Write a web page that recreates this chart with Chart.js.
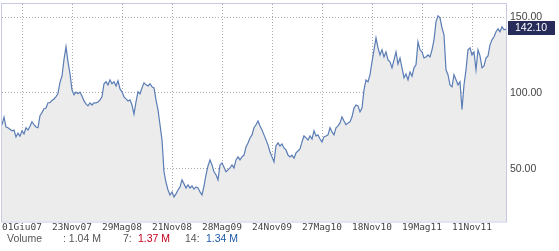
<!DOCTYPE html>
<html>
<head>
<meta charset="utf-8">
<script src="https://cdn.jsdelivr.net/npm/chart.js@4.4.0/dist/chart.umd.min.js"></script>
<style>
  html, body { margin: 0; padding: 0; background: #fff; }
  #wrap { position: relative; width: 559px; height: 251px; }
  #vol span { position: absolute; top: 232px; font: 10.5px "Liberation Sans", Arial, sans-serif; color: #555; white-space: pre; line-height: 12px; }
  #vol .red { color: #c4001c; }
  #vol .blue { color: #1d5aa8; }
</style>
</head>
<body>
<div id="wrap">
  <canvas id="c" width="559" height="251"></canvas>
  <div id="vol"></div>
</div>
<script>
// prezzi di chiusura (un punto ogni 2px circa)
var prices = [
  79, 84, 77.5, 77, 76, 75, 75.5, 71, 73.5, 71.5, 75, 73, 77, 75.5, 78, 81, 79, 77.5, 77, 85,
  87, 89.5, 90, 93.5, 93.5, 95, 96, 97.5, 99.5, 107, 111, 122, 130.5, 120.5, 112.5, 102, 98.7,
  100.5, 99.5, 100.5, 98, 94.7, 92.7, 91.4, 93.4, 92, 93.4, 93.4, 94, 95.4, 97.4, 106, 107.3,
  105.3, 108.6, 106, 107.3, 104.6, 108, 102.6, 100.7, 97.4, 96, 94.7, 95.4, 92, 86, 94, 100.7,
  99.4, 103.3, 106.6, 105.3,
  104.6, 106, 104, 103.3, 95.4, 88.8, 79, 69, 48, 41, 36, 32.7, 34.7, 31.4, 33.4, 36, 38, 42.6,
  40, 37.3, 39.3, 37.3, 38.6, 36.6, 38, 37.3, 34.7, 32.7, 38.6, 46, 51.8, 55.8, 52.5, 48, 46, 42.6,
  52.5, 53.8, 51, 48, 49.2, 50.5, 52.5, 50.5, 55.8, 57.8, 55.8, 57.8, 59, 64.4, 67, 70.3, 72.3,
  77, 79, 81.5, 78.2, 75.6, 72.3, 69, 65.7, 61, 57.8, 54.5, 65, 67, 65, 66.3, 63.7, 62.4, 59, 57.8,
  59, 57, 60.4, 61.7, 63, 67.7, 71.6, 70.3, 69, 71.6, 69.6, 75, 71.6, 72.3, 69.6, 67.7, 71, 71.6,
  72.3, 77, 74.3, 72.3, 77, 78.2, 80.2, 84.2, 81.5, 79, 80.2, 80.9, 84.2, 90, 92, 91.4, 87.5,
  90, 102, 108.6, 107.3, 112, 120.5, 128.4, 136.3, 129.7, 125, 128.4, 123.7, 127, 121.8, 120.5,
  116.5, 121.8, 127, 119, 123, 116.5, 110, 112.4, 108.6, 113.8, 111, 116.5, 118.5, 133.6, 128.4,
  127, 123, 123.7, 125, 123.7, 128.4, 135,
  146.8, 150.8, 149.5, 142.9, 138.3, 115.2, 112, 105.3, 104, 112, 108.6, 105.3, 107.3, 89, 105.3,
  115.2, 128.4, 129.7, 125, 127, 115.2, 128.4, 124.4, 116.5, 117.8, 123, 124.4, 131.7, 135, 137,
  140.3, 142.2, 140.3, 143.6, 141.6, 142.1
];

// etichette asse x e relativa posizione (indice del punto)
var tickDates = ['01Giu07', '23Nov07', '29Mag08', '21Nov08', '28Mag09', '24Nov09', '27Mag10', '18Nov10', '19Mag11', '11Nov11'];
var tickIdx = [10, 35, 60, 85, 110, 135, 160, 185, 210, 235];
var yTicks = [50, 100, 150];

// volumi
var volNow = 1.04, vol7 = 1.37, vol14 = 1.34;

var points = [];
for (var i = 0; i < prices.length; i++) {
  points.push({ x: i, y: prices[i] });
}

// bordo del grafico + etichetta ultimo prezzo
var frame = {
  id: 'frame',
  afterDraw: function (chart) {
    var ctx = chart.ctx, a = chart.chartArea;
    ctx.save();
    ctx.strokeStyle = '#c8cae4';
    ctx.lineWidth = 1;
    ctx.strokeRect(a.left - 0.5, a.top - 0.5, a.right - a.left + 1, a.bottom - a.top + 1);

    var last = prices[prices.length - 1];
    var y = chart.scales.y.getPixelForValue(last) - 1.5;
    ctx.fillStyle = '#272c5b';
    ctx.fillRect(a.right + 2, Math.round(y) - 7, 47, 14);
    ctx.fillStyle = '#fff';
    ctx.font = '10.5px "Liberation Sans", Arial, sans-serif';
    ctx.textBaseline = 'middle';
    ctx.fillText(last.toFixed(2), a.right + 9, Math.round(y) + 0.5);
    ctx.restore();
  }
};

var chart = new Chart(document.getElementById('c'), {
  type: 'line',
  data: {
    datasets: [{
      data: points,
      borderColor: '#5a7db6',
      borderWidth: 1.2,
      backgroundColor: '#ececec',
      fill: 'start',
      pointRadius: 0,
      tension: 0
    }]
  },
  options: {
    responsive: false,
    animation: false,
    devicePixelRatio: 1,
    layout: { padding: { left: 2, top: 4, right: 0, bottom: 0 } },
    plugins: { legend: { display: false }, tooltip: { enabled: false } },
    scales: {
      x: {
        type: 'linear',
        min: 0,
        max: prices.length - 1,
        afterBuildTicks: function (s) { s.ticks = tickIdx.map(function (v) { return { value: v }; }); },
        afterFit: function (s) {
          s.height = 29.5;
          s.paddingLeft = 0; s.paddingRight = 0;
        },
        ticks: {
          autoSkip: false,
          maxRotation: 0,
          padding: 0,
          color: '#444',
          font: { family: '"DejaVu Sans Mono", monospace', size: 9.5 },
          callback: function (v) { return tickDates[tickIdx.indexOf(v)]; }
        },
        grid: { color: '#aaaaaa', drawTicks: false },
        border: { display: false, dash: [1, 2] }
      },
      y: {
        position: 'right',
        min: 15.2,
        max: 158.6,
        afterBuildTicks: function (s) { s.ticks = yTicks.map(function (v) { return { value: v }; }); },
        afterFit: function (s) {
          s.width = 53;
          s.paddingTop = 0; s.paddingBottom = 0;
        },
        ticks: {
          padding: 4,
          color: '#444',
          font: { family: '"Liberation Sans", Arial, sans-serif', size: 10.5 },
          callback: function (v) { return v.toFixed(2); }
        },
        grid: { color: '#aaaaaa', drawTicks: false },
        border: { display: false, dash: [1, 2] }
      }
    }
  },
  plugins: [frame]
});

// riga dei volumi sotto il grafico
var vol = document.getElementById('vol');
var parts = [
  ['Volume', 7, ''],
  [': ' + volNow.toFixed(2) + ' M', 63, ''],
  ['7:', 123, ''],
  [vol7.toFixed(2) + ' M', 138, 'red'],
  ['14:', 185, ''],
  [vol14.toFixed(2) + ' M', 206, 'blue']
];
parts.forEach(function (p) {
  var s = document.createElement('span');
  s.textContent = p[0];
  s.style.left = p[1] + 'px';
  if (p[2]) s.className = p[2];
  vol.appendChild(s);
});
</script>
</body>
</html>
